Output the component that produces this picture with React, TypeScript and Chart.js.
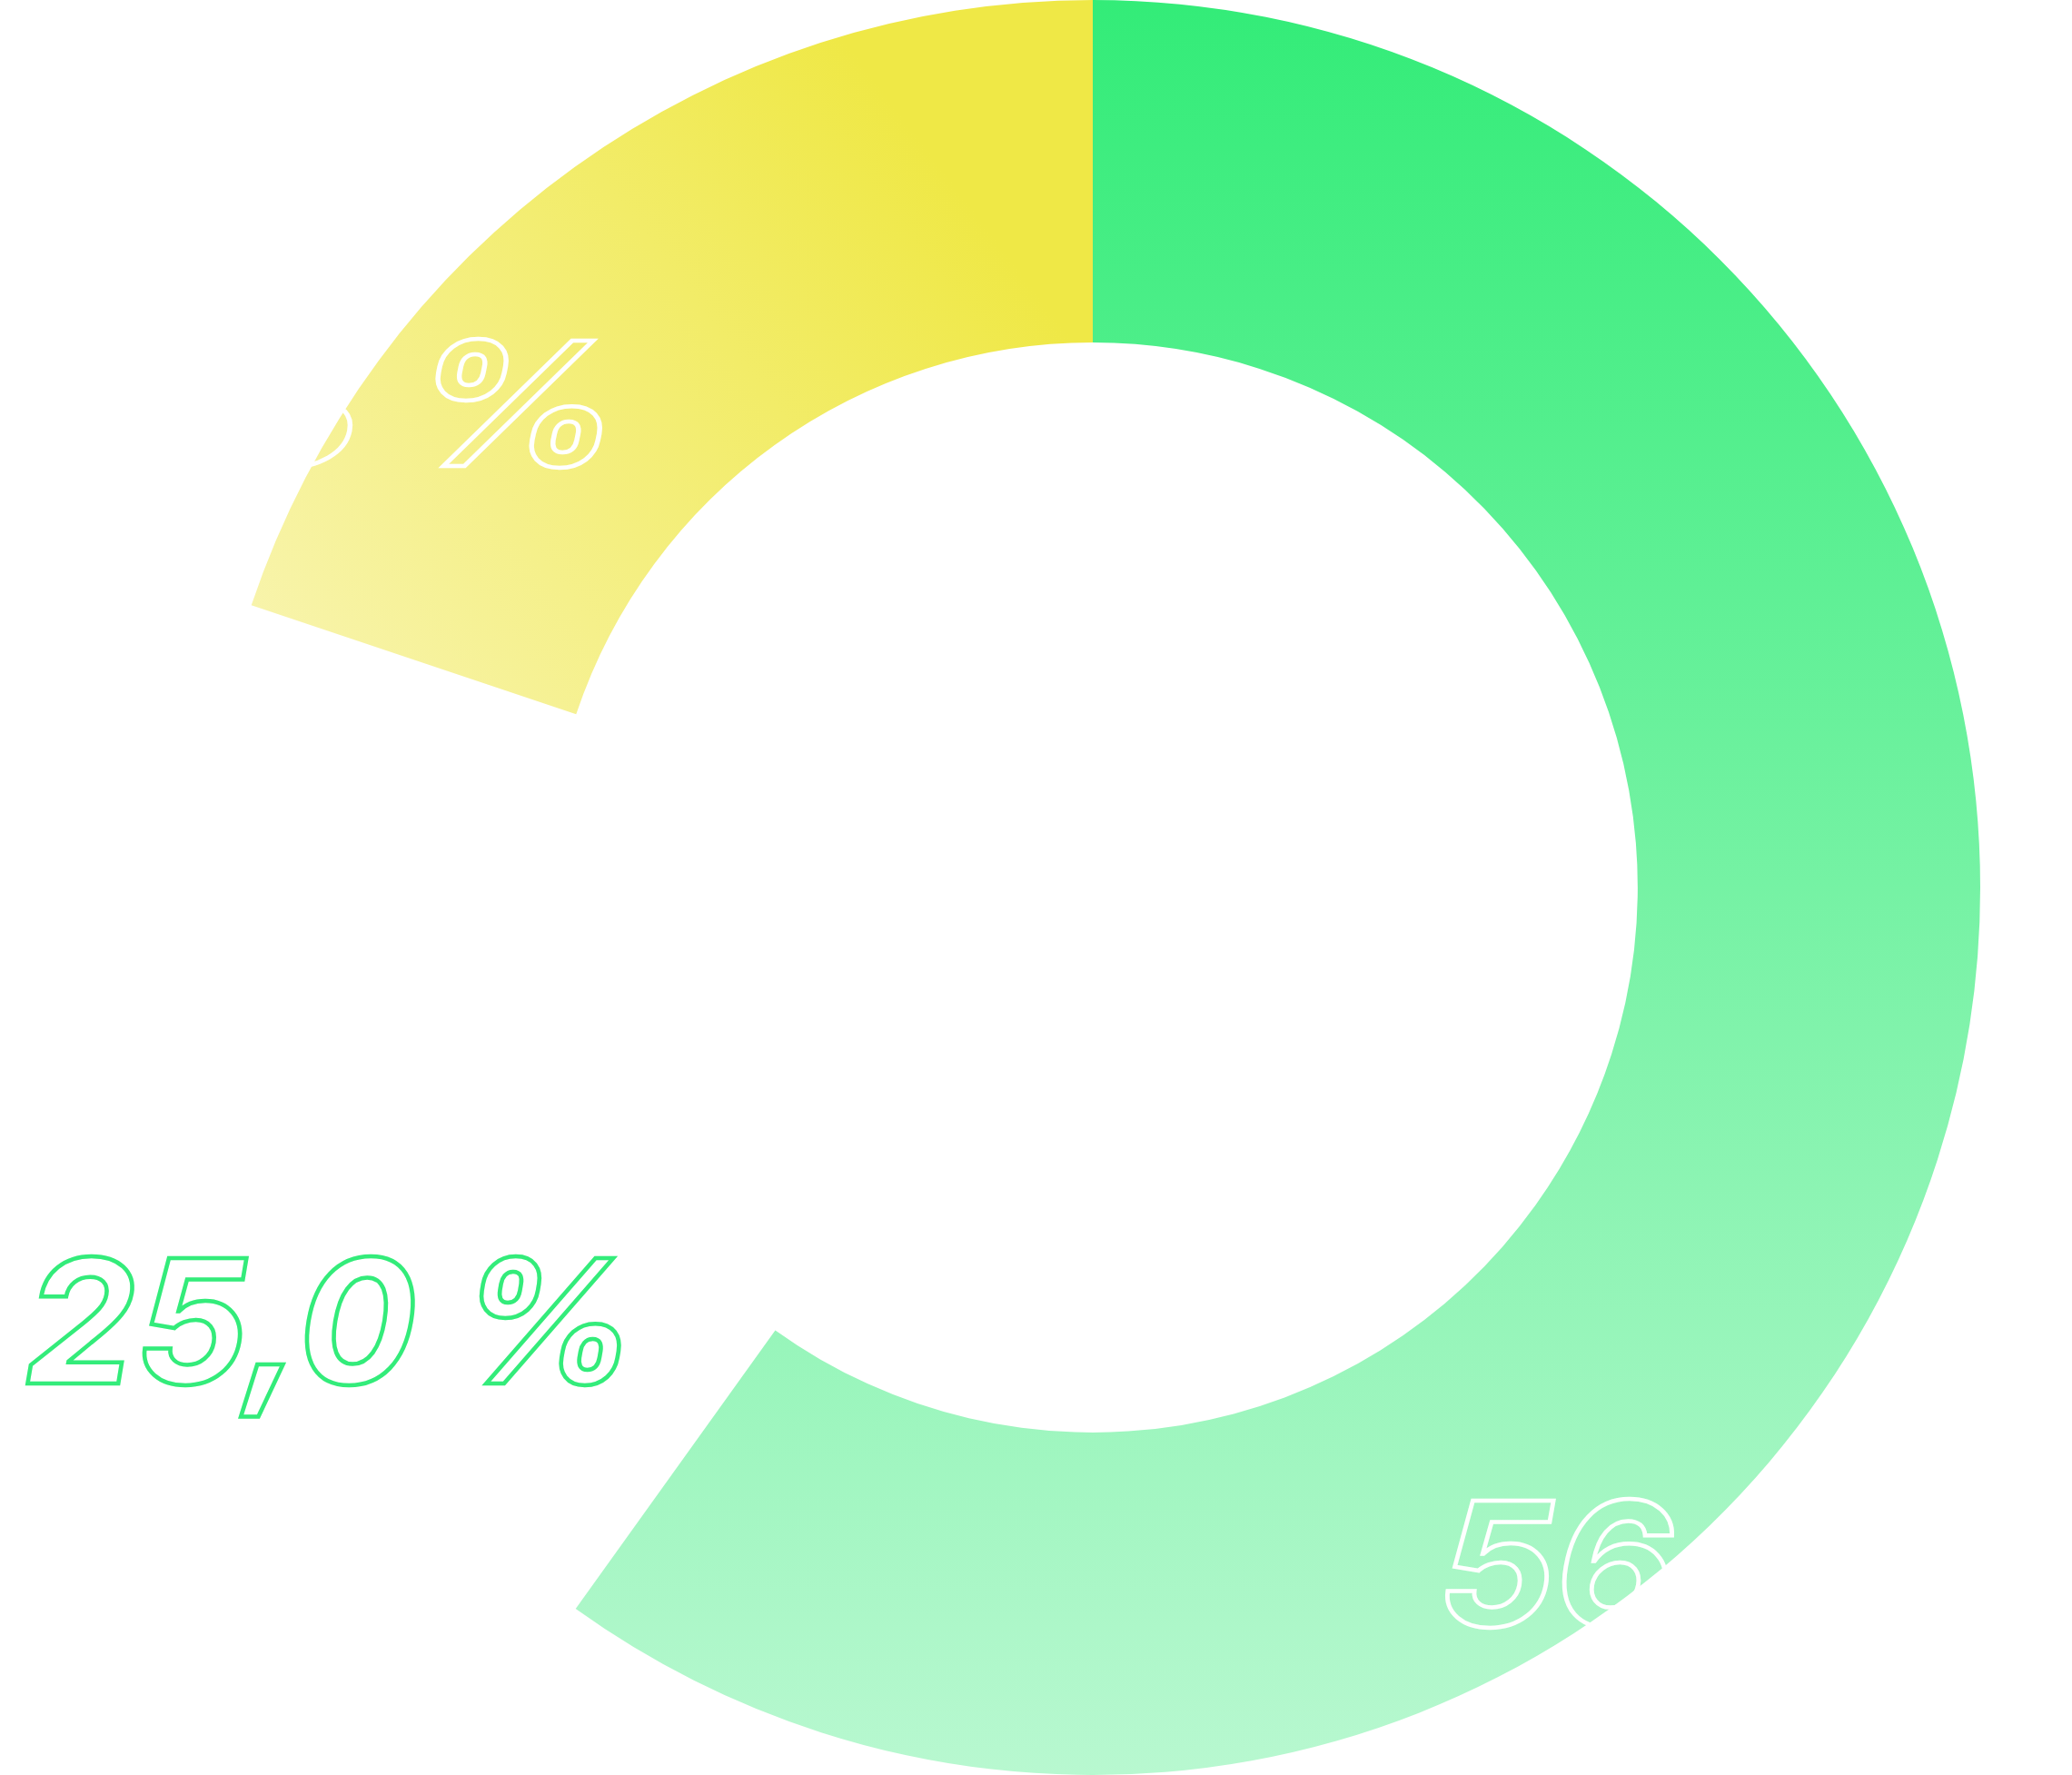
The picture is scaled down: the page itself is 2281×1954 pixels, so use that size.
import React, { useEffect, useRef } from "react";
import { Chart, registerables } from "chart.js";

Chart.register(...registerables);

const categories = ["Green", "Empty", "Yellow"];
const values = [59.9, 20.25, 19.85];
const valueLabels = ["56,7 %", "25,0 %", "18,3 %"];

const FONT = "italic 700 190px Inter";

const labelPlugin = {
  id: "outlinedLabels",
  afterDatasetsDraw(chart: any) {
    const meta = chart.getDatasetMeta(0);
    const arc = meta.data[0];
    if (!arc) return;
    const { x: cx, y: cy, outerRadius: R } = arc.getProps(["x", "y", "outerRadius"], true);
    const opts = chart.options.plugins.outlinedLabels;
    const ctx = chart.ctx;
    valueLabels.forEach((txt, i) => {
      const s = opts.styles[i];
      ctx.save();
      ctx.font = opts.font;
      ctx.textAlign = s.align;
      ctx.textBaseline = "alphabetic";
      ctx.lineWidth = opts.lineWidth;
      ctx.lineJoin = "miter";
      ctx.strokeStyle = s.color;
      ctx.translate(cx + s.pos[0] * R, cy + s.pos[1] * R);
      ctx.scale(s.scaleX, 1);
      ctx.strokeText(txt, 0, 0);
      ctx.restore();
    });
  },
};

export default function App() {
  const ref = useRef<HTMLCanvasElement | null>(null);
  useEffect(() => {
    let chart: Chart | null = null;
    let cancelled = false;
    const make = () => {
      if (cancelled || !ref.current) return;
      chart = new Chart(ref.current, {
        type: "doughnut",
        data: {
          labels: categories,
          datasets: [
            {
              data: values,
              borderWidth: 0,
              backgroundColor: (c: any) => {
                const { chart, dataIndex } = c;
                const area = chart.chartArea;
                if (!area) return "transparent";
                const g = chart.ctx;
                if (dataIndex === 0) {
                  const gr = g.createLinearGradient(0, area.top, 0, area.bottom);
                  gr.addColorStop(0, "#33EC78");
                  gr.addColorStop(1, "#B8F8D0");
                  return gr;
                }
                if (dataIndex === 2) {
                  const cx = (area.left + area.right) / 2;
                  const cy = (area.top + area.bottom) / 2;
                  const R = (area.bottom - area.top) / 2;
                  const gr = g.createLinearGradient(cx - 0.2 * R, cy - 0.85 * R, cx - 0.95 * R, cy - 0.28 * R);
                  gr.addColorStop(0, "#EFE846");
                  gr.addColorStop(1, "#F8F4AD");
                  return gr;
                }
                return "rgba(0,0,0,0)";
              },
            },
          ],
        },
        options: {
          animation: false,
          responsive: true,
          maintainAspectRatio: false,
          cutout: "61.4%",
          layout: { padding: { left: 125, right: 0, top: 0, bottom: 0 } },
          plugins: {
            legend: { display: false },
            tooltip: { enabled: false },
            outlinedLabels: {
              font: FONT,
              lineWidth: 4.5,
              styles: [
                { color: "#FFFFFF", align: "left", scaleX: 1.06, pos: [0.3895, 0.8321] },
                { color: "#33EC7A", align: "left", scaleX: 1.02, pos: [-1.2032, 0.5589] },
                { color: "#FFFFFF", align: "right", scaleX: 1.2, pos: [-0.5317, -0.4749] },
              ],
            },
          } as any,
        },
        plugins: [labelPlugin],
      });
    };
    const fonts: any = (document as any).fonts;
    if (fonts && fonts.load) {
      fonts.load(FONT, "25,0 %").then(make, make);
    } else {
      make();
    }
    return () => {
      cancelled = true;
      if (chart) chart.destroy();
    };
  }, []);
  return (
    <div style={{ position: "absolute", left: 0, top: 0, width: 2281, height: 1954, background: "#fff" }}>
      <canvas ref={ref} />
    </div>
  );
}
